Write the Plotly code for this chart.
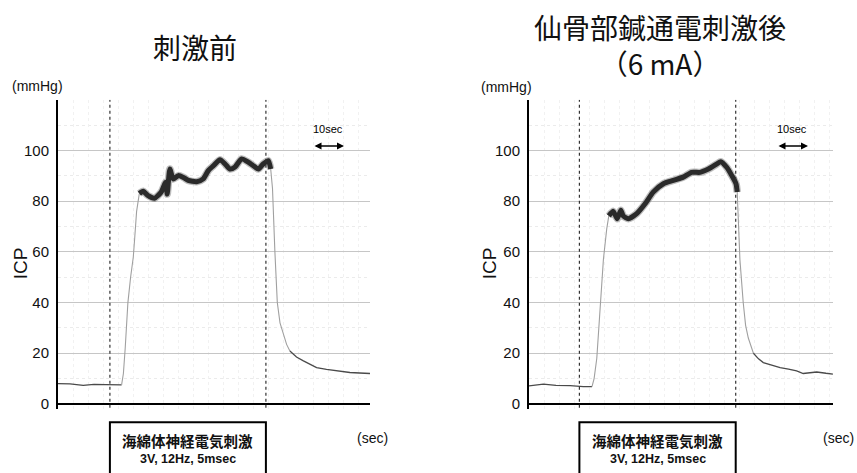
import plotly.graph_objects as go

W, H = 857, 473

# Stimulation windows (s): start / end of nerve stimulation
before_stim = [17.3, 69.3]
after_stim = [16.8, 68.9]

# ---- 刺激前 : ICP trace (mmHg) against time (s) ----
before_base_t = [0, 4, 8.4, 12, 16, 19, 21.2]
before_base_icp = [8.0, 7.9, 7.3, 7.7, 7.6, 7.7, 7.5]
before_rise_t = [21.2, 21.8, 22.4, 23.3, 24.2, 25.1, 25.6, 26.2, 27.1]
before_rise_icp = [7.5, 12, 22, 40, 50, 58, 66, 76, 83]
before_peak_t = [27.1, 28.4, 29.9, 32.2, 33.4, 34.5, 35.9, 36.4, 37.3, 38.4, 40.1,
                 41.8, 43.4, 46.2, 48.4, 50.1, 51.8, 54.0, 55.7, 57.3, 59.0, 61.2,
                 63.4, 65.1, 66.8, 68.4, 70.1, 70.9]
before_peak_icp = [83, 83.9, 82.3, 81.2, 82.3, 83.8, 87.5, 82.8, 92.7, 88.8, 90.1,
                   89.4, 88.2, 87.7, 88.8, 92.1, 94, 96.4, 94.7, 92.7, 93.5, 96.7,
                   95.4, 94, 92.7, 94.7, 96, 92.7]
before_fall_t = [70.9, 71.5, 72.3, 73.1, 74.0, 75.1, 76.2, 77.3]
before_fall_icp = [92.7, 85, 60, 40, 32, 27.4, 23.5, 20.9]
before_tail_t = [77.3, 79.5, 81.8, 84, 86.2, 89.5, 92.9, 97.3, 100.5, 104]
before_tail_icp = [20.9, 18.5, 17, 15.5, 14.3, 13.6, 13, 12.4, 12.2, 12]

# ---- 仙骨部鍼通電刺激後 (6 mA) ----
after_base_t = [0, 4.8, 9, 13.7, 18.1, 21]
after_base_icp = [7.1, 7.8, 7.3, 7.2, 6.8, 6.8]
after_rise_t = [21, 21.7, 22.6, 23.7, 24.8, 25.9, 26.6]
after_rise_icp = [6.8, 10, 18, 40, 57, 69, 74.2]
after_peak_t = [26.6, 28.1, 29.4, 30.6, 31.4, 33.1, 35.9, 38.7, 41.4, 44.8, 48.1,
                51.4, 54.2, 57, 59.8, 62.6, 63.9, 65.9, 67.6, 69.0, 69.4]
after_peak_icp = [74.2, 76, 73.1, 76.4, 74.2, 73.1, 75.1, 79, 83.6, 86.9, 88.2,
                  89.5, 91.4, 91.4, 92.7, 94.7, 95.6, 93.4, 90.1, 86.9, 83.6]
after_fall_t = [69.4, 69.8, 70.3, 71.4, 72.2, 73.1, 74.8]
after_fall_icp = [83.6, 72, 57, 40, 31, 26, 20]
after_tail_t = [74.8, 76.5, 78.1, 80.9, 83.7, 86.5, 89.2, 91.4, 93.7, 95.9, 99, 101.3]
after_tail_icp = [20, 17.8, 16.3, 15.2, 14.3, 13.7, 13, 12, 12.3, 12.6, 12.1, 11.8]

y_ticks = [0, 20, 40, 60, 80, 100]
panel_titles = ["刺激前", "仙骨部鍼通電刺激後<br>（6 mA）"]
stim_label = "<b>海綿体神経電気刺激</b>"
stim_params = "<b>3V, 12Hz, 5msec</b>"

LATIN = "Liberation Sans, Arial, sans-serif"
CJK = "Noto Sans CJK JP, sans-serif"


def px(x):
    return x / W


def py(y):
    return 1 - y / H


fig = go.Figure()

panels = [
    dict(xa="x", ya="y", stim=before_stim,
         segs=[(before_base_t, before_base_icp), (before_rise_t, before_rise_icp),
               (before_peak_t, before_peak_icp), (before_fall_t, before_fall_icp),
               (before_tail_t, before_tail_icp)]),
    dict(xa="x2", ya="y2", stim=after_stim,
         segs=[(after_base_t, after_base_icp), (after_rise_t, after_rise_icp),
               (after_peak_t, after_peak_icp), (after_fall_t, after_fall_icp),
               (after_tail_t, after_tail_icp)]),
]

seg_styles = [
    dict(color="#4a4a4a", width=1.3),   # baseline
    dict(color="#a0a0a0", width=1.1),   # rise
    dict(color="#2a2a2a", width=5),     # sustained response (noisy band)
    dict(color="#a0a0a0", width=1.1),   # fall
    dict(color="#4a4a4a", width=1.3),   # recovery
]

for p in panels:
    # soft halo under the noisy band
    t, v = p["segs"][2]
    fig.add_trace(go.Scatter(x=t, y=v, xaxis=p["xa"], yaxis=p["ya"], mode="lines",
                             line=dict(color="rgba(70,70,70,0.35)", width=7.5, shape="spline",
                                       smoothing=0.6),
                             hoverinfo="skip", showlegend=False))
    for k, ((t, v), st) in enumerate(zip(p["segs"], seg_styles)):
        line = dict(st)
        if k == 2:
            line.update(shape="spline", smoothing=0.6)
        fig.add_trace(go.Scatter(x=t, y=v, xaxis=p["xa"], yaxis=p["ya"], mode="lines",
                                 line=line, showlegend=False))

yaxis_common = dict(
    range=[-2, 120], domain=[py(411.6), py(100.5)],
    showline=True, linecolor="black", linewidth=2,
    tickvals=y_ticks, ticks="", ticklabelstandoff=4,
    tickfont=dict(family=LATIN, size=15, color="#111"),
    showgrid=True, gridcolor="#c6c6c6", gridwidth=1,
    zeroline=True, zerolinecolor="black", zerolinewidth=2,
    minor=dict(dtick=10, showgrid=True, gridcolor="#ebebeb", griddash="dot"),
)
xaxis_common = dict(
    showticklabels=False, ticks="", showline=False, zeroline=False,
    showgrid=True, dtick=5, gridcolor="#f1f1f1", griddash="dot",
)

fig.update_layout(
    width=W, height=H, margin=dict(l=0, r=0, t=0, b=0),
    paper_bgcolor="white", plot_bgcolor="white",
    xaxis=dict(xaxis_common, domain=[px(58), px(370)], range=[0, 104], anchor="y"),
    yaxis=dict(yaxis_common, anchor="x"),
    xaxis2=dict(xaxis_common, domain=[px(529), px(833)], range=[0, 101.33], anchor="y2"),
    yaxis2=dict(yaxis_common, anchor="x2"),
)

shapes = []
annotations = []


def label(x, y, text, font, xref="paper", **kw):
    annotations.append(dict(xref=xref, yref="paper", x=x, y=py(y), text=text,
                            showarrow=False, font=font,
                            xanchor="center", yanchor="middle", **kw))


for i, p in enumerate(panels):
    xr, yr = p["xa"], p["ya"]
    for s in p["stim"]:
        shapes.append(dict(type="line", xref=xr, yref=yr, x0=s, x1=s, y0=-1.5, y1=120,
                           line=dict(color="#333", width=1.2, dash="dot")))
    shapes.append(dict(type="rect", xref=xr, yref="paper",
                       x0=p["stim"][0], x1=p["stim"][1], y0=py(490), y1=py(425),
                       line=dict(color="black", width=2), fillcolor="white"))
    mid = (p["stim"][0] + p["stim"][1]) / 2
    label(mid, 443, stim_label, dict(family=CJK, size=14.5, color="#111"), xref=xr)
    label(mid, 462, stim_params, dict(family=LATIN, size=12.5, color="#111"), xref=xr)

# panel-specific text placement (pixels)
layout_px = [
    dict(title=(195, 47), mmhg=(37, 87), icp=(20, 265), sec=(372, 441),
         scale_txt=(328, 130), arrow=(313, 344, 147)),
    dict(title=(660, 45), mmhg=(506, 88), icp=(489, 265), sec=(838, 441),
         scale_txt=(792, 130), arrow=(777, 808, 147)),
]
for i, lp in enumerate(layout_px):
    tx, ty = lp["title"]
    label(px(tx), ty, panel_titles[i], dict(family=CJK, size=28, color="#111"),
          align="center")
    label(px(lp["mmhg"][0]), lp["mmhg"][1], "(mmHg)", dict(family=LATIN, size=14, color="#111"))
    label(px(lp["icp"][0]), lp["icp"][1], "ICP", dict(family=LATIN, size=19, color="#111"),
          textangle=-90)
    label(px(lp["sec"][0]), lp["sec"][1], "(sec)", dict(family=LATIN, size=14, color="#111"))
    label(px(lp["scale_txt"][0]), lp["scale_txt"][1], "10sec",
          dict(family=LATIN, size=11, color="#000"))
    x0, x1, ya = lp["arrow"]
    annotations.append(dict(xref="paper", yref="paper", x=px(x1), y=py(ya),
                            ax=-(x1 - x0), ay=0, axref="pixel", ayref="pixel",
                            text="", showarrow=True, arrowhead=2, arrowside="end+start",
                            arrowsize=1, arrowwidth=1.4, arrowcolor="black"))

fig.update_layout(shapes=shapes, annotations=annotations)
fig.write_html("out.html")
